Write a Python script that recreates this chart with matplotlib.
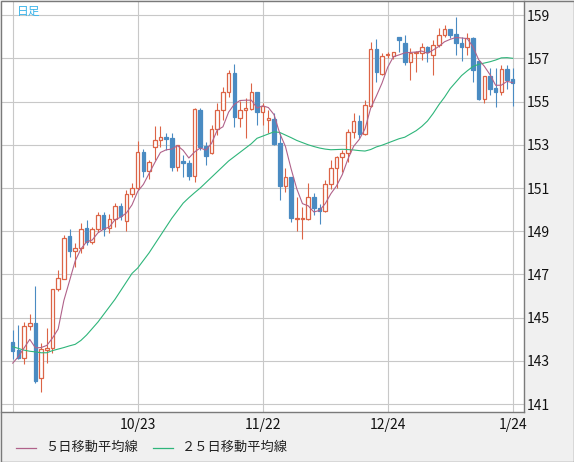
import matplotlib
matplotlib.use("Agg")
from matplotlib import pyplot as plt
from matplotlib.lines import Line2D
from matplotlib.patches import Rectangle
import numpy as np
import pandas as pd

plt.rcParams['font.family'] = ['Noto Sans CJK JP', 'DejaVu Sans']

# daily candles
opens = [143.89, 143.50, 143.12, 144.60, 144.75, 142.20, 143.50, 143.60, 146.33, 146.80,
         148.78, 148.10, 148.21, 149.13, 148.49, 149.09, 149.75, 149.13, 149.55, 150.17,
         149.47, 150.71, 150.98, 152.65, 151.80, 152.91, 153.22, 153.37, 153.30, 151.98,
         152.25, 152.14, 151.57, 154.61, 152.95, 152.60, 153.73, 154.61, 155.42, 156.30,
         154.25, 154.62, 154.65, 155.42, 154.50, 154.14, 154.19, 153.10, 151.10, 151.49,
         149.55, 149.55, 149.55, 150.60, 150.06, 149.95, 151.17, 151.91, 152.42, 152.60,
         153.57, 154.11, 153.52, 154.81, 157.41, 156.26, 157.15, 157.12, 157.97, 157.69,
         156.84, 157.24, 157.23, 157.50, 157.15, 157.61, 158.07, 158.35, 158.12, 157.69,
         157.50, 157.92, 156.87, 155.10, 156.18, 155.61, 155.45, 156.49, 156.04]
highs = [144.43, 144.66, 144.81, 145.17, 146.47, 143.81, 144.51, 146.35, 147.21, 148.82,
         149.09, 148.44, 149.38, 149.52, 149.20, 149.90, 149.90, 149.80, 150.29, 150.29,
         150.91, 151.21, 153.17, 152.80, 152.30, 153.87, 153.87, 153.53, 153.53, 153.00,
         152.52, 152.30, 154.70, 154.70, 153.11, 153.91, 154.92, 155.66, 156.46, 156.72,
         155.02, 155.15, 155.84, 155.42, 154.92, 154.61, 154.45, 153.53, 151.91, 151.49,
         150.60, 150.13, 151.24, 150.75, 150.26, 151.37, 152.29, 152.48, 152.76, 153.75,
         154.45, 154.37, 155.07, 157.77, 157.88, 157.23, 157.30, 157.30, 157.97, 158.07,
         157.46, 157.35, 157.69, 157.57, 157.84, 158.38, 158.54, 158.35, 158.89, 158.00,
         158.15, 158.00, 156.87, 156.18, 156.53, 156.53, 156.69, 156.69, 156.53]
lows = [143.09, 143.09, 142.86, 144.43, 141.99, 141.58, 142.92, 143.38, 146.23, 146.78,
        147.82, 147.33, 147.98, 148.35, 148.40, 148.98, 148.79, 148.90, 149.21, 149.52,
        149.01, 150.60, 150.90, 151.52, 151.40, 152.30, 152.91, 152.76, 151.80, 151.80,
        151.49, 151.37, 151.29, 152.76, 152.06, 152.56, 153.45, 154.14, 155.22, 153.83,
        153.83, 153.30, 154.60, 153.91, 153.91, 153.53, 152.99, 150.44, 150.83, 149.44,
        149.02, 148.63, 149.50, 149.75, 149.33, 149.90, 150.94, 150.98, 151.75, 152.21,
        153.30, 153.30, 153.45, 154.76, 155.92, 156.21, 157.00, 156.95, 157.30, 156.69,
        155.99, 156.38, 156.92, 156.84, 156.22, 157.53, 157.99, 157.95, 157.15, 156.87,
        157.15, 155.92, 155.07, 154.94, 155.30, 154.73, 155.30, 155.56, 154.79]
closes = [143.46, 143.12, 144.62, 144.74, 142.09, 143.54, 143.60, 146.33, 146.82, 148.67,
          148.10, 148.21, 149.09, 148.49, 149.09, 149.75, 149.09, 149.55, 150.17, 149.70,
          150.71, 150.98, 152.65, 151.80, 152.21, 153.22, 153.34, 153.26, 151.98, 152.99,
          152.14, 151.57, 154.65, 152.91, 152.49, 153.73, 154.61, 155.42, 156.30, 154.30,
          154.61, 154.68, 155.42, 154.50, 154.79, 154.22, 153.03, 151.09, 151.49, 149.60,
          149.60, 149.60, 150.60, 150.06, 149.95, 151.17, 151.91, 152.42, 152.63, 153.57,
          154.11, 153.52, 154.84, 157.41, 156.38, 157.12, 157.18, 157.27, 157.84, 156.84,
          157.23, 157.27, 157.50, 157.30, 157.61, 158.07, 158.34, 158.07, 157.72, 157.50,
          157.92, 156.46, 155.10, 156.18, 155.56, 155.45, 156.49, 155.99, 155.87]

# first four 5-day MA values (earlier closes are off the chart)
ma5_head = [142.90, 143.20, 143.60, 144.00]

# 25-day MA
ma25 = [143.66, 143.58, 143.50, 143.45, 143.42, 143.38, 143.38, 143.48, 143.55, 143.62,
        143.70, 143.77, 143.95, 144.20, 144.50, 144.80, 145.15, 145.50, 145.85, 146.25,
        146.65, 147.05, 147.30, 147.65, 148.00, 148.40, 148.80, 149.20, 149.60, 149.95,
        150.30, 150.55, 150.78, 151.00, 151.25, 151.50, 151.75, 152.00, 152.25, 152.45,
        152.65, 152.85, 153.05, 153.30, 153.40, 153.50, 153.60, 153.57, 153.45, 153.33,
        153.20, 153.10, 153.00, 152.92, 152.85, 152.80, 152.77, 152.78, 152.79, 152.78,
        152.76, 152.73, 152.71, 152.78, 152.90, 152.98, 153.08, 153.18, 153.28, 153.35,
        153.50, 153.65, 153.85, 154.10, 154.45, 154.85, 155.20, 155.60, 155.90, 156.20,
        156.42, 156.62, 156.72, 156.78, 156.84, 156.92, 157.02, 157.03, 157.00]

tick_idx = [22, 44, 66, 88]
tick_labels = ["10/23", "11/22", "12/24", "1/24"]
y_ticks = list(range(141, 160, 2))

up_col = "#dc6446"
down_col = "#4a8bc2"
ma5_col = "#b0628a"
ma25_col = "#2eb57a"
grid_col = "#c8c8c8"
frame_col = "#7a7a7a"

df = pd.DataFrame({"open": opens, "high": highs, "low": lows, "close": closes})
ma5 = df["close"].rolling(5).mean()
ma5.iloc[:4] = ma5_head
x = np.arange(len(df))
up = df["close"] >= df["open"]

W, H = 574, 462
fig = plt.figure(figsize=(W / 100, H / 100), dpi=100, facecolor="#f0f0f0")
ax = fig.add_axes([1 / W, 50 / H, 522.5 / W, 411 / H])
ax.set_facecolor("white")

# pixel mapping of the original: index 0 at x=12.7, 5.682 px per bar; 159 at y=15, 21.62 px per unit
ax.set_xlim(-2.06, 89.9)
ax.set_ylim(140.64, 159.65)

for v in y_ticks:
    ax.axhline(v, color=grid_col, lw=0.8, zorder=1)
for v in tick_idx + [0]:
    ax.axvline(v, color=grid_col, lw=0.8, zorder=1)

ax.vlines(x[up], df["low"][up], df["high"][up], color=up_col, lw=0.8, zorder=2)
ax.vlines(x[~up], df["low"][~up], df["high"][~up], color=down_col, lw=0.8, zorder=2)
ax.bar(x[up], (df["close"] - df["open"])[up], bottom=df["open"][up], width=0.62,
       facecolor="white", edgecolor=up_col, linewidth=0.9, zorder=3)
ax.bar(x[~up], (df["open"] - df["close"])[~up], bottom=df["close"][~up], width=0.62,
       facecolor=down_col, edgecolor=down_col, linewidth=0.9, zorder=3)

ax.plot(x, ma25, color=ma25_col, lw=0.8, zorder=4)
ax.plot(x, ma5, color=ma5_col, lw=0.8, zorder=5)

ax.yaxis.tick_right()
ax.set_yticks(y_ticks)
ax.set_xticks(tick_idx)
ax.set_xticklabels(tick_labels)
ax.tick_params(axis="y", length=0, pad=2.5, labelsize=10, labelcolor="#111111")
ax.tick_params(axis="x", length=0, pad=4, labelsize=10, labelcolor="#111111")
for s in ["top", "left"]:
    ax.spines[s].set_visible(False)
for s in ["right", "bottom"]:
    ax.spines[s].set_color(frame_col)
    ax.spines[s].set_linewidth(1)

ax.text(16 / 522.5, 1 - 10 / 411, "日足", transform=ax.transAxes, color="#3ab4ea",
        fontsize=8.5, va="center", ha="left")

# legend along the bottom
ly = (H - 447.5) / H
fig.add_artist(Line2D([16 / W, 36 / W], [ly, ly], color=ma5_col, lw=0.9))
fig.text(45 / W, ly, "５日移動平均線", fontsize=9.5, va="center", ha="left", color="#222222")
fig.add_artist(Line2D([153 / W, 173 / W], [ly, ly], color=ma25_col, lw=0.9))
fig.text(182 / W, ly, "２５日移動平均線", fontsize=9.5, va="center", ha="left", color="#222222")

fig.add_artist(Rectangle((0.5 / W, 0.5 / H), (W - 1) / W, (H - 1) / H, transform=fig.transFigure,
                         fill=False, edgecolor=frame_col, lw=1))

fig.savefig("out.png", dpi=100, facecolor=fig.get_facecolor())
